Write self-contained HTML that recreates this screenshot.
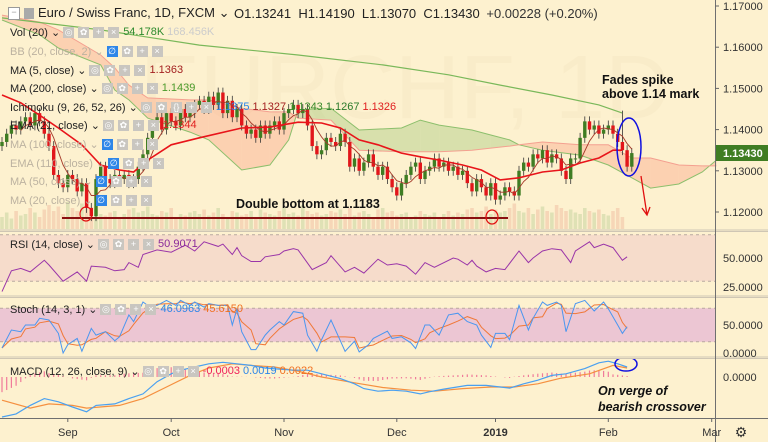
<!DOCTYPE html>
<html><head><meta charset="utf-8"><style>
body{margin:0;width:768px;height:442px;overflow:hidden;background:#fdf1cf;font-family:"Liberation Sans",sans-serif}
#wrap{position:relative;width:768px;height:442px}
svg{position:absolute;left:0;top:0}
.lg{position:absolute;font-size:11px;color:#222;white-space:nowrap;display:flex;align-items:center;gap:3px;height:14px}
.lg.h{color:#bcb2a0}
.ic{display:inline-block;width:11px;height:11px;background:#c9c6c0;color:#fff;font-size:9px;line-height:11px;text-align:center;margin-right:1px}
.ic.b{background:#2e86e8}
.ann{position:absolute;font-size:12.5px;font-weight:bold;color:#111;line-height:14px}
</style></head><body><div id="wrap">
<svg id="s" width="768" height="442"></svg>

<div class="lg" style="left:8px;top:6px;font-size:13px"><span class="ic" style="width:10px;background:#fff;border:1px solid #999;color:#999;line-height:9px">−</span><span class="ic" style="background:#aaa;width:10px"></span> Euro / Swiss Franc, 1D, FXCM ⌄</div>
<div class="lg" style="left:234px;top:6px;font-size:13px">O1.13241&nbsp; H1.14190&nbsp; L1.13070&nbsp; C1.13430&nbsp; <span style="color:#333">+0.00228 (+0.20%)</span></div>

<div class="lg" style="left:10px;top:25px">Vol (20) ⌄ <span class="ic">◎</span><span class="ic">✿</span><span class="ic">+</span><span class="ic">×</span><span style="color:#2d8a2d">54.178K</span> <span style="color:#ccc">168.456K</span></div>
<div class="lg h" style="left:10px;top:44px">BB (20, close, 2) ⌄ <span class="ic b">∅</span><span class="ic">✿</span><span class="ic">+</span><span class="ic">×</span></div>
<div class="lg" style="left:10px;top:63px">MA (5, close) ⌄ <span class="ic">◎</span><span class="ic">✿</span><span class="ic">+</span><span class="ic">×</span><span style="color:#a32020">1.1363</span></div>
<div class="lg" style="left:10px;top:81px">MA (200, close) ⌄ <span class="ic">◎</span><span class="ic">✿</span><span class="ic">+</span><span class="ic">×</span><span style="color:#4a9a2a">1.1439</span></div>
<div class="lg" style="left:10px;top:100px">Ichimoku (9, 26, 52, 26) ⌄ <span class="ic">◎</span><span class="ic">✿</span><span class="ic">{}</span><span class="ic">+</span><span class="ic">×</span><span style="color:#2e86e8">1.1375</span> <span style="color:#a32020">1.1327</span> <span style="color:#3a8a2a">1.1343</span> <span style="color:#2a7a2a">1.1267</span> <span style="color:#e02020">1.1326</span></div>
<div class="lg" style="left:10px;top:118px">EMA (21, close) ⌄ <span class="ic">◎</span><span class="ic">✿</span><span class="ic">+</span><span class="ic">×</span><span style="color:#e02020">1.1344</span></div>
<div class="lg h" style="left:10px;top:137px">MA (100, close) ⌄ <span class="ic b">∅</span><span class="ic">✿</span><span class="ic">+</span><span class="ic">×</span></div>
<div class="lg h" style="left:10px;top:156px">EMA (110, close) ⌄ <span class="ic b">∅</span><span class="ic">✿</span><span class="ic">+</span><span class="ic">×</span></div>
<div class="lg h" style="left:10px;top:174px">MA (50, close) ⌄ <span class="ic b">∅</span><span class="ic">✿</span><span class="ic">+</span><span class="ic">×</span></div>
<div class="lg h" style="left:10px;top:193px">MA (20, close) ⌄ <span class="ic b">∅</span><span class="ic">✿</span><span class="ic">+</span><span class="ic">×</span></div>

<div class="lg" style="left:10px;top:237px">RSI (14, close) ⌄ <span class="ic">◎</span><span class="ic">✿</span><span class="ic">+</span><span class="ic">×</span><span style="color:#8a2a9a">50.9071</span></div>
<div class="lg" style="left:10px;top:302px">Stoch (14, 3, 1) ⌄ <span class="ic">◎</span><span class="ic">✿</span><span class="ic">+</span><span class="ic">×</span><span style="color:#2e86e8">46.0963</span> <span style="color:#f07020">45.6150</span></div>
<div class="lg" style="left:10px;top:364px">MACD (12, 26, close, 9) ⌄ <span class="ic">◎</span><span class="ic">✿</span><span class="ic">+</span><span class="ic">×</span><span style="color:#f0205a">-0.0003</span> <span style="color:#2e86e8">0.0019</span> <span style="color:#f07020">0.0022</span></div>

<div class="ann" style="left:602px;top:73px">Fades spike<br>above 1.14 mark</div>
<div class="ann" style="left:236px;top:197px">Double bottom at 1.1183</div>
<div class="ann" style="left:598px;top:383px;font-style:italic;font-size:12.5px;line-height:16px">On verge of<br>bearish crossover</div>
</div>
<script>
const closes=[1.137,1.139,1.141,1.140,1.142,1.143,1.141,1.144,1.142,1.139,1.136,
1.129,1.127,1.126,1.129,1.128,1.125,1.127,1.121,1.119,1.128,
1.131,1.128,1.127,1.129,1.128,1.129,1.127,1.128,1.131,1.134,
1.138,1.141,1.143,1.140,1.144,1.142,1.141,1.145,1.143,1.144,
1.146,1.147,1.145,1.148,1.146,1.149,1.144,1.147,1.143,1.145,
1.141,1.139,1.140,1.138,1.141,1.139,1.141,1.142,1.140,1.144,
1.145,1.146,1.144,1.145,1.141,1.136,1.134,1.135,1.138,1.137,
1.136,1.139,1.137,1.131,1.133,1.130,1.132,1.134,1.131,1.129,
1.131,1.128,1.126,1.124,1.127,1.129,1.131,1.132,1.128,1.130,
1.131,1.133,1.131,1.132,1.130,1.131,1.129,1.130,1.127,1.125,
1.128,1.126,1.124,1.127,1.123,1.124,1.126,1.125,1.124,1.130,
1.132,1.131,1.134,1.133,1.135,1.132,1.134,1.133,1.130,1.128,
1.133,1.133,1.138,1.142,1.140,1.141,1.139,1.140,1.141,1.139,
1.137,1.135,1.131,1.1343];
const volumes=[40,55,35,60,45,50,70,55,40,65,80,60,75,50,90,70,60,85,95,70,65,50,45,55,60,40,50,65,70,55,60,75,50,45,60,55,70,40,50,45,55,60,50,65,45,55,70,50,40,60,55,45,50,60,40,65,55,50,45,60,70,50,55,45,80,60,50,55,45,50,60,55,65,50,70,45,55,60,50,40,65,70,55,60,45,50,55,40,45,60,50,45,55,40,50,60,45,55,50,65,70,55,60,75,50,65,55,60,70,85,60,55,70,50,65,75,60,55,80,70,60,65,55,50,70,60,55,65,50,45,60,70,40];
const ma200Idx=[0,21,42,63,81,95,106,117,127,132];
const ma200Val=[1.1671,1.1642,1.1605,1.1581,1.1557,1.1533,1.1508,1.1484,1.1460,1.1440];
const emaIdx=[0,4,8,12,17,21,25,28,31,36,42,51,57,63,68,72,76,80,85,89,93,98,102,106,110,115,119,123,127,130,132];
const emaVal=[1.1484,1.1465,1.1435,1.1404,1.1363,1.1314,1.1302,1.1297,1.1326,1.1363,1.1380,1.1404,1.1406,1.1418,1.1416,1.1404,1.1375,1.1363,1.1343,1.1334,1.1326,1.1314,1.1302,1.1278,1.1283,1.1297,1.1302,1.1319,1.1331,1.1350,1.1350];
const cloudIdx=[0,8,12,21,24,27,31,40,44,51,57,61,63,70,76,85,89,93,100,104,108,110,115,123,129,134,138,144,149,152];
const spanA=[1.1666,1.1630,1.1598,1.1557,1.1496,1.1472,1.1428,1.1394,1.1375,1.1302,1.1314,1.1375,1.1448,1.1452,1.1399,1.1404,1.1423,1.1411,1.1399,1.1387,1.1375,1.1363,1.1350,1.1338,1.1314,1.1283,1.1258,1.1268,1.1297,1.1326];
const spanB=[1.1678,1.1661,1.1642,1.1581,1.1550,1.1508,1.1477,1.1472,1.1472,1.1452,1.1443,1.1443,1.1428,1.1423,1.1350,1.1346,1.1346,1.1346,1.1350,1.1355,1.1360,1.1363,1.1370,1.1363,1.1363,1.1331,1.1331,1.1314,1.1312,1.1312];
const rsiIdx=[0,2,4,6,9,10,13,16,18,19,22,24,26,27,29,30,33,36,39,41,43,46,47,49,50,51,53,55,56,59,60,62,63,66,69,70,73,75,77,80,82,84,86,88,90,92,96,97,99,100,101,103,105,107,110,112,113,115,117,119,121,122,125,126,128,130,132,133];
const rsiVal=[21,39,41,38,48,44,30,38,30,43,42,39,40,46,42,53,57,55,61,56,64,60,62,53,59,52,47,47,51,53,56,58,57,40,46,52,38,42,37,49,44,45,43,36,46,42,50,49,44,48,43,38,41,40,56,46,50,56,58,57,46,56,64,59,62,59,48,51];
const stIdx=[0,2,4,5,7,8,10,12,13,14,16,17,19,20,22,24,25,27,28,30,31,33,35,37,38,40,41,43,44,46,48,49,50,51,53,54,56,57,59,60,62,64,65,67,68,70,73,75,76,78,79,82,83,85,87,88,90,91,93,95,97,99,101,102,104,105,107,108,110,112,113,115,116,118,119,120,122,124,126,128,129,131,132,133];
const stK=[9,41,38,50,50,62,59,35,0,15,26,3,44,32,38,22,29,68,56,91,85,85,94,85,94,85,91,82,88,85,85,50,79,38,6,6,32,41,56,50,74,71,32,3,24,59,3,21,2,15,26,39,26,29,18,8,50,50,32,68,71,56,50,32,10,35,35,24,85,41,62,91,85,91,85,38,88,94,75,91,79,50,35,47];
const macdIdx=[0,3,6,9,12,15,18,20,24,27,30,33,36,38,41,44,47,50,53,56,59,62,65,68,72,75,77,80,83,86,89,91,94,99,103,106,108,111,114,117,120,124,127,129,131,133];
const macdVal=[-0.0076,-0.0070,-0.0054,-0.0041,-0.0047,-0.0057,-0.0066,-0.0054,-0.0051,-0.0041,-0.0032,-0.0009,0.0006,0.0013,0.0019,0.0025,0.0028,0.0025,0.0022,0.0017,0.0015,0.0013,0.0013,0.0006,-0.0003,-0.0013,-0.0022,-0.0027,-0.0025,-0.0027,-0.0032,-0.0028,-0.0023,-0.0016,-0.0016,-0.0019,-0.0021,-0.0013,-0.0006,0.0003,0.0006,0.0016,0.0027,0.0030,0.0025,0.0019];
const sigIdx=[0,6,10,15,18,25,30,35,40,44,49,53,58,63,68,75,81,87,92,98,104,109,114,119,125,130,133];
const sigVal=[-0.0044,-0.0059,-0.0051,-0.0054,-0.0059,-0.0054,-0.0041,-0.0019,0.0003,0.0017,0.0025,0.0022,0.0019,0.0011,0,-0.0011,-0.0020,-0.0025,-0.0027,-0.0022,-0.0019,-0.0019,-0.0013,-0.0002,0.0006,0.0022,0.0017];
const priceTicks=[1.17,1.16,1.15,1.14,1.13,1.12];
const monthLabels=["Sep","Oct","Nov","Dec","2019","Feb","Mar"];
const monthIdx=[14,36,60,84,105,129,151];

const NS="http://www.w3.org/2000/svg";
const svg=document.getElementById('s');
function el(t,a,p){const e=document.createElementNS(NS,t);for(const k in a)e.setAttribute(k,a[k]);(p||svg).appendChild(e);return e;}
const bx=i=>2+i*4.7;
const py=p=>6+(1.17-p)*4120;
const ry=v=>258-(v-50)*1.16;
const sy=v=>353-v*0.56;
const my=v=>377-v*5267;
function line(idx,val,fy,st,w,name){const d=idx.map((i,k)=>(k?'L':'M')+bx(i).toFixed(1)+' '+fy(val[k]).toFixed(1)).join('');const e=el('path',{d:d,fill:'none',stroke:st,'stroke-width':w});

return e;}

let r=el('rect',{x:0,y:ry(70),width:715,height:ry(30)-ry(70),fill:'#f6dccb'});


r=el('rect',{x:0,y:sy(80),width:715,height:sy(20)-sy(80),fill:'#ecc6d3'});


[[ry(70)],[ry(30)],[sy(80)],[sy(20)]].forEach(a=>el('line',{x1:0,x2:715,y1:a[0],y2:a[0],stroke:'#b9a9a0','stroke-dasharray':'3,3','stroke-width':1}));
let wm=el('text',{x:140,y:118,'font-size':90,fill:'#f9ecc9','font-family':'Liberation Sans'});wm.textContent='EURCHF, 1D';



volumes.forEach((v,i)=>{const up=i==0||closes[i]>=closes[i-1];const h=v*0.3;const b=el('rect',{x:bx(i)-1.8,y:229-h,width:3.6,height:h,fill:up?'rgba(120,170,90,0.22)':'rgba(220,110,90,0.2)'});

});

for(let k=0;k<cloudIdx.length-1;k++){const x1=bx(cloudIdx[k]),x2=bx(cloudIdx[k+1]);
const pA1=py(spanA[k]),pA2=py(spanA[k+1]),pB1=py(spanB[k]),pB2=py(spanB[k+1]);
const green=(spanA[k]+spanA[k+1])>(spanB[k]+spanB[k+1]);
const c=el('polygon',{points:`${x1},${pA1} ${x2},${pA2} ${x2},${pB2} ${x1},${pB1}`,fill:green?'rgba(160,200,120,0.4)':'rgba(250,170,140,0.45)'});

}
line(cloudIdx,spanA,py,'#8cbf6c',1,'senkou-span-a');
line(cloudIdx,spanB,py,'#f4a090',1,'senkou-span-b');
line(ma200Idx,ma200Val,py,'#7ab85a',1.2,'ma200-line');

closes.forEach((c,i)=>{const o=i?closes[i-1]:1.136;const up=c>=o;const col=up?'#3f7d23':'#e2161b';
const hi=Math.max(o,c)+0.0012+(i==132?0.0064:0),lo=Math.min(o,c)-0.0012;
const g=el('g',{});


el('line',{x1:bx(i),x2:bx(i),y1:py(hi),y2:py(lo),stroke:'#333','stroke-width':0.8},g);
el('rect',{x:bx(i)-1.7,y:py(Math.max(o,c)),width:3.4,height:Math.max(1,Math.abs(py(o)-py(c))),fill:col},g);});
const ma5i=[],ma5v=[];closes.forEach((c,i)=>{if(i>=4){ma5i.push(i);ma5v.push(closes.slice(i-4,i+1).reduce((a,b)=>a+b)/5);}});
line(ma5i,ma5v,py,'#a53a2a',0.9,'ma5-line');
line(emaIdx,emaVal,py,'#e8141a',1.6,'ema21-line');

let db=el('line',{x1:62,x2:508,y1:218,y2:218,stroke:'#8a1010','stroke-width':2});


[[86,214],[492,217]].forEach(p=>{const c=el('ellipse',{cx:p[0],cy:p[1],rx:6,ry:7,fill:'none',stroke:'#e01010','stroke-width':1.2});

});
let e1=el('ellipse',{cx:629,cy:147,rx:12,ry:29,fill:'none',stroke:'#1010e0','stroke-width':1.5});


let ar=el('path',{d:'M641 176 L647 215 M642 208 L647 215 L650 207',fill:'none',stroke:'#e01010','stroke-width':1.3});



line(rsiIdx,rsiVal,ry,'#9a35a8',1,'rsi-line');
const stD=stK.map((v,k)=>{const a=stK.slice(Math.max(0,k-2),k+1);return a.reduce((x,y)=>x+y)/a.length;});
line(stIdx,stD,sy,'#f07838',1,'stoch-d-line');
line(stIdx,stK,sy,'#4a96f0',1,'stoch-k-line');
function sigAt(i){for(let k=0;k<sigIdx.length-1;k++){if(i>=sigIdx[k]&&i<=sigIdx[k+1]){const t=(i-sigIdx[k])/(sigIdx[k+1]-sigIdx[k]);return sigVal[k]+t*(sigVal[k+1]-sigVal[k]);}}return sigVal[sigVal.length-1];}
function macdAt(i){for(let k=0;k<macdIdx.length-1;k++){if(i>=macdIdx[k]&&i<=macdIdx[k+1]){const t=(i-macdIdx[k])/(macdIdx[k+1]-macdIdx[k]);return macdVal[k]+t*(macdVal[k+1]-macdVal[k]);}}return macdVal[macdVal.length-1];}
for(let i=0;i<=133;i++){const h=(macdAt(i)-sigAt(i))*0.9;const b=el('line',{x1:bx(i),x2:bx(i),y1:my(0),y2:my(h),stroke:'#f07a9a','stroke-width':1.2});

}
line(sigIdx,sigVal,my,'#f59040',1.2,'macd-signal-line');
line(macdIdx,macdVal,my,'#4aa0f0',1.2,'macd-line');
let e2=el('ellipse',{cx:626,cy:364,rx:11,ry:7,fill:'none',stroke:'#1010e0','stroke-width':1.5});



[230,296,357].forEach(y=>{el('rect',{x:0,y:y-1,width:768,height:3,fill:'#cfc6b4'});el('line',{x1:0,x2:768,y1:y,y2:y,stroke:'#fdf1cf','stroke-width':1});});
el('line',{x1:715.5,x2:715.5,y1:0,y2:442,stroke:'#6f6f6f','stroke-width':1});
el('line',{x1:0,x2:768,y1:418.5,y2:418.5,stroke:'#6f6f6f','stroke-width':1});
function lab(x,y,t,name,extra){const e=el('text',Object.assign({x:x,y:y,'font-size':11,fill:'#333','font-family':'Liberation Sans'},extra||{}));e.textContent=t;

return e;}
priceTicks.forEach(p=>{el('line',{x1:715,x2:719,y1:py(p),y2:py(p),stroke:'#666'});lab(723,py(p)+4,p.toFixed(5),'price-tick-label');});
let pl=el('rect',{x:716,y:145,width:52,height:16,fill:'#3f7d23'});


lab(723,157,'1.13430','current-price-text',{fill:'#fff','font-weight':'bold'});
lab(723,262,'50.0000','rsi-tick-label');lab(723,291,'25.0000','rsi-tick-label');
lab(723,329,'50.0000','stoch-tick-label');lab(723,357,'0.0000','stoch-tick-label');
lab(723,381,'0.0000','macd-tick-label');
monthLabels.forEach((m,k)=>{el('line',{x1:bx(monthIdx[k]),x2:bx(monthIdx[k]),y1:418,y2:422,stroke:'#666'});
const t=lab(bx(monthIdx[k]),436,m,'time-axis-label',{'text-anchor':'middle','font-weight':m=='2019'?'bold':'normal'});});
const gear=lab(741,437,'⚙','settings-gear',{'text-anchor':'middle','font-size':14});

</script>
</body></html>
